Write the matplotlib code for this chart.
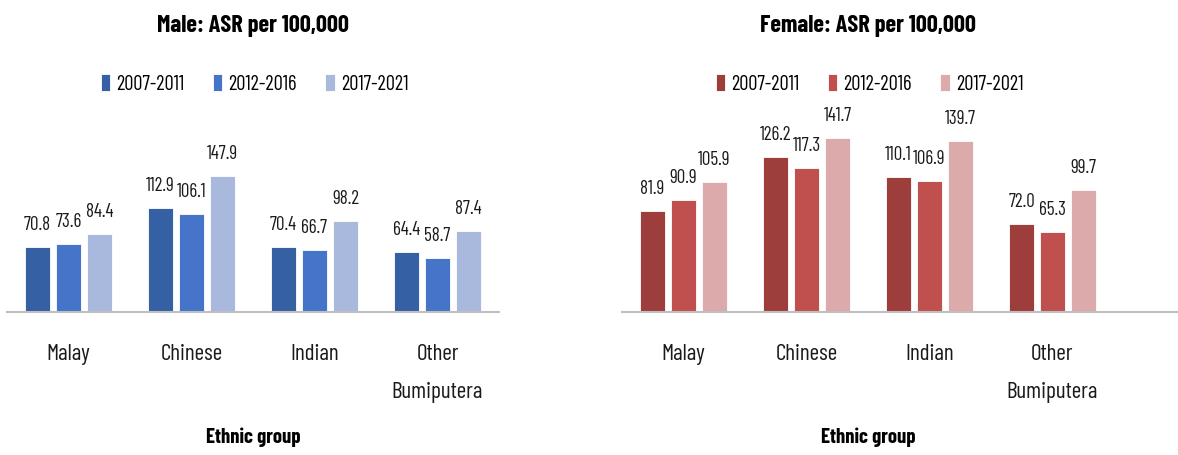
import matplotlib
matplotlib.use("Agg")
import matplotlib.pyplot as plt
from matplotlib import font_manager
import numpy as np

names = {f.name for f in font_manager.fontManager.ttflist}
FONT = next((f for f in ["Barlow Condensed", "PT Sans Narrow"] if f in names), "DejaVu Sans")
plt.rcParams['font.family'] = [FONT, 'DejaVu Sans']

categories = ["Malay", "Chinese", "Indian", "Other\nBumiputera"]
periods = ["2007-2011", "2012-2016", "2017-2021"]
male = {
    "2007-2011": [70.8, 112.9, 70.4, 64.4],
    "2012-2016": [73.6, 106.1, 66.7, 58.7],
    "2017-2021": [84.4, 147.9, 98.2, 87.4],
}
female = {
    "2007-2011": [81.9, 126.2, 110.1, 72.0],
    "2012-2016": [90.9, 117.3, 106.9, 65.3],
    "2017-2021": [105.9, 141.7, 139.7, 99.7],
}
male_colors = ["#3560A3", "#4674C8", "#A9B8DD"]
female_colors = ["#9E3E3C", "#C0504D", "#DCAAAA"]

W, H = 1178, 455
fig = plt.figure(figsize=(W / 100, H / 100), dpi=100)
renderer = fig.canvas.get_renderer()

def fit(text, target_px, bold=False):
    t = fig.text(0, 0, text, fontsize=20, fontweight="bold" if bold else "normal")
    w = t.get_window_extent(renderer).width
    t.remove()
    return 20 * target_px / w

FS_LABEL = fit("147.9", 31)
FS_CAT = fit("Malay", 44)
FS_LEG = fit("2007-2011", 68)
FS_TITLE = fit("Male: ASR per 100,000", 192, True)
FS_XLAB = fit("Ethnic group", 95, True)

def px_axes(x0, x1, ybase, ytop):
    return fig.add_axes([x0 / W, (H - ybase) / H, (x1 - x0) / W, (ybase - ytop) / H])

def panel(x0, x1, data, colors, ytopval, title, group_px=123.0):
    ax = px_axes(x0, x1, 311.5, 100)
    n = len(categories)
    x = np.arange(n)
    width = 0.203
    step = 0.252
    handles = []
    for i, p in enumerate(periods):
        bars = ax.bar(x + (i - 1) * step, data[p], width=width, color=colors[i],
                      edgecolor="white", linewidth=0.6, label=p, zorder=2)
        handles.append(bars)
        for xi, v in zip(x + (i - 1) * step, data[p]):
            ax.annotate(f"{v:.1f}", (xi, v), xytext=(0, 22), textcoords="offset pixels",
                        ha="center", va="center", fontsize=FS_LABEL, color="#1a1a1a")
    ax.set_xlim(-0.5, -0.5 + (x1 - x0) / group_px)
    ax.set_ylim(0, ytopval)
    for s in ["top", "right", "left"]:
        ax.spines[s].set_visible(False)
    ax.spines["bottom"].set_color("#BFBFBF")
    ax.spines["bottom"].set_linewidth(1.5)
    ax.set_yticks([])
    ax.set_xticks(x)
    ax.set_xticklabels(categories, fontsize=FS_CAT, linespacing=2.07, va="top", color="#1a1a1a")
    ax.tick_params(axis="x", length=0, pad=23.3)
    cx = x0 + group_px * n / 2
    fig.text(cx / W, 1 - 26 / H, title, ha="center", va="center",
             fontsize=FS_TITLE, fontweight="bold")
    fig.text(cx / W, 1 - 437 / H, "Ethnic group", ha="center", va="center",
             fontsize=FS_XLAB, fontweight="bold")
    fig.legend(handles=handles, labels=periods, loc="center",
               bbox_to_anchor=((cx + 1.5) / W, 1 - 84 / H), ncol=3, frameon=False,
               fontsize=FS_LEG, handlelength=0.45, handleheight=0.85,
               handletextpad=0.3, columnspacing=1.4, borderpad=0)
    return ax

panel(7, 499, male, male_colors, 211.5 / 0.918, "Male: ASR per 100,000")
panel(622, 1178, female, female_colors, 211.5 / 1.222, "Female: ASR per 100,000")

fig.savefig("out.png", dpi=100)
